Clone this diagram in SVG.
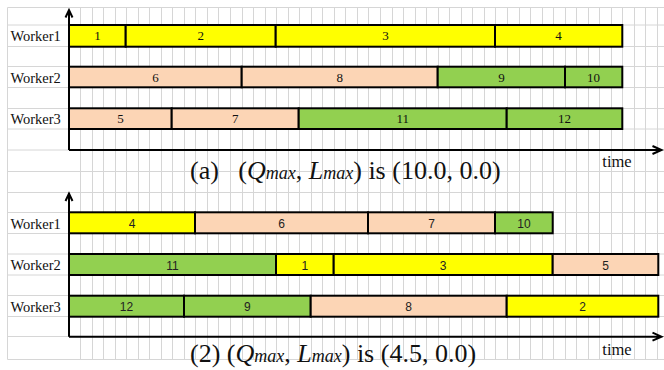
<svg xmlns="http://www.w3.org/2000/svg" width="664" height="370" viewBox="0 0 664 370">
<style>
.grid{stroke:#d6d6d6;stroke-width:1;fill:none}
.bar{stroke:#000;stroke-width:2}
.y{fill:#ffff00}.p{fill:#fcd5b5}.g{fill:#92d050}
.lab{font-family:"Liberation Serif","Times New Roman",serif;font-size:14.5px;fill:#111}
.ts{font-family:"Liberation Serif","Times New Roman",serif;font-size:13px;fill:#111;text-anchor:middle}
.tb{font-family:"Liberation Sans",Arial,sans-serif;font-size:12px;fill:#222;text-anchor:middle}
.cap{font-family:"Liberation Serif","Times New Roman",serif;font-size:26px;fill:#111}
.it{font-style:italic}
.sm{font-style:italic;font-size:18px}
.time{font-family:"Liberation Serif","Times New Roman",serif;font-size:16.5px;fill:#111}
.ax{stroke:#000;stroke-width:2;fill:none}
</style>
<rect width="664" height="370" fill="#fff"/>
<g id="grid">
<path class="grid" d="M7.5 7.5V359.5M80.5 7.5V359.5M92.5 7.5V359.5M103.5 7.5V359.5M115.5 7.5V359.5M126.5 7.5V359.5M138.5 7.5V359.5M149.5 7.5V359.5M161.5 7.5V359.5M172.5 7.5V359.5M184.5 7.5V359.5M195.5 7.5V359.5M207.5 7.5V359.5M218.5 7.5V359.5M230.5 7.5V359.5M242.5 7.5V359.5M253.5 7.5V359.5M265.5 7.5V359.5M276.5 7.5V359.5M288.5 7.5V359.5M299.5 7.5V359.5M311.5 7.5V359.5M322.5 7.5V359.5M334.5 7.5V359.5M345.5 7.5V359.5M357.5 7.5V359.5M368.5 7.5V359.5M380.5 7.5V359.5M392.5 7.5V359.5M403.5 7.5V359.5M415.5 7.5V359.5M426.5 7.5V359.5M438.5 7.5V359.5M449.5 7.5V359.5M461.5 7.5V359.5M472.5 7.5V359.5M484.5 7.5V359.5M495.5 7.5V359.5M507.5 7.5V359.5M519.5 7.5V359.5M530.5 7.5V359.5M542.5 7.5V359.5M553.5 7.5V359.5M565.5 7.5V359.5M576.5 7.5V359.5M588.5 7.5V359.5M599.5 7.5V359.5M611.5 7.5V359.5M622.5 7.5V359.5M634.5 7.5V359.5M645.5 7.5V359.5M657.5 7.5V359.5"/>
<path class="grid" d="M7.5 7.5H664M7.5 25H664M7.5 46.5H664M7.5 66.5H664M7.5 87.5H664M7.5 108.5H664M7.5 129H664M7.5 150H664M7.5 171.5H664M7.5 192.5H664M7.5 212.5H664M7.5 233.5H664M7.5 254H664M7.5 275H664M7.5 295.5H664M7.5 316.5H664M7.5 336.5H664M7.5 359.5H664"/>
</g>
<g id="labels-a">
<text class="lab" x="10.5" y="40.7">Worker1</text>
<text class="lab" x="10.5" y="82.5">Worker2</text>
<text class="lab" x="10.5" y="123.5">Worker3</text>
</g>
<g id="chart-a">
<g id="a-t1"><rect class="bar y" x="69" y="25" width="56.7" height="21.7"/><text class="ts" x="97.4" y="40.3">1</text></g>
<g id="a-t2"><rect class="bar y" x="125.7" y="25" width="150" height="21.7"/><text class="ts" x="200.7" y="40.3">2</text></g>
<g id="a-t3"><rect class="bar y" x="275.7" y="25" width="219.3" height="21.7"/><text class="ts" x="385.4" y="40.3">3</text></g>
<g id="a-t4"><rect class="bar y" x="495" y="25" width="127.3" height="21.7"/><text class="ts" x="558.6" y="40.3">4</text></g>
<g id="a-t6"><rect class="bar p" x="69" y="66.7" width="172.7" height="20.6"/><text class="ts" x="155.4" y="81.5">6</text></g>
<g id="a-t8"><rect class="bar p" x="241.7" y="66.7" width="196" height="20.6"/><text class="ts" x="339.7" y="81.5">8</text></g>
<g id="a-t9"><rect class="bar g" x="437.7" y="66.7" width="127.3" height="20.6"/><text class="ts" x="501.4" y="81.5">9</text></g>
<g id="a-t10"><rect class="bar g" x="565" y="66.7" width="57.3" height="20.6"/><text class="ts" x="593.6" y="81.5">10</text></g>
<g id="a-t5"><rect class="bar p" x="69" y="108.3" width="102.7" height="20.7"/><text class="ts" x="120.4" y="123.2">5</text></g>
<g id="a-t7"><rect class="bar p" x="171.7" y="108.3" width="127" height="20.7"/><text class="ts" x="235.2" y="123.2">7</text></g>
<g id="a-t11"><rect class="bar g" x="298.7" y="108.3" width="208" height="20.7"/><text class="ts" x="402.7" y="123.2">11</text></g>
<g id="a-t12"><rect class="bar g" x="506.7" y="108.3" width="115.6" height="20.7"/><text class="ts" x="564.5" y="123.2">12</text></g>
</g>
<g id="labels-b">
<text class="lab" x="10.5" y="229">Worker1</text>
<text class="lab" x="10.5" y="270">Worker2</text>
<text class="lab" x="10.5" y="312">Worker3</text>
</g>
<g id="chart-b">
<g id="b-t4"><rect class="bar y" x="69" y="212.3" width="126" height="21"/><text class="tb" x="132" y="227.8">4</text></g>
<g id="b-t6"><rect class="bar p" x="195" y="212.3" width="173" height="21"/><text class="tb" x="281.5" y="227.8">6</text></g>
<g id="b-t7"><rect class="bar p" x="368" y="212.3" width="127" height="21"/><text class="tb" x="431.5" y="227.8">7</text></g>
<g id="b-t10"><rect class="bar g" x="495" y="212.3" width="57.7" height="21"/><text class="tb" x="523.9" y="227.8">10</text></g>
<g id="b-t11"><rect class="bar g" x="69" y="254" width="207" height="21"/><text class="tb" x="172.5" y="269.5">11</text></g>
<g id="b-t1"><rect class="bar y" x="276" y="254" width="57.7" height="21"/><text class="tb" x="304.9" y="269.5">1</text></g>
<g id="b-t3"><rect class="bar y" x="333.7" y="254" width="219" height="21"/><text class="tb" x="443.2" y="269.5">3</text></g>
<g id="b-t5"><rect class="bar p" x="552.7" y="254" width="105.6" height="21"/><text class="tb" x="605.5" y="269.5">5</text></g>
<g id="b-t12"><rect class="bar g" x="69" y="295.7" width="115" height="21"/><text class="tb" x="126.5" y="311.2">12</text></g>
<g id="b-t9"><rect class="bar g" x="184" y="295.7" width="126.7" height="21"/><text class="tb" x="247.4" y="311.2">9</text></g>
<g id="b-t8"><rect class="bar p" x="310.7" y="295.7" width="196" height="21"/><text class="tb" x="408.7" y="311.2">8</text></g>
<g id="b-t2"><rect class="bar y" x="506.7" y="295.7" width="151.6" height="21"/><text class="tb" x="582.5" y="311.2">2</text></g>
</g>
<g id="connectors">
<path class="ax" d="M69 150V10M65.5 17.5L69 10L72.5 17.5"/>
<path class="ax" d="M69 150H661.5M652.5 146L661.5 150L652.5 154"/>
<path class="ax" d="M69 336.7V193.5M65.5 201L69 193.5L72.5 201"/>
<path class="ax" d="M69 336.7H661.5M652.5 332.7L661.5 336.7L652.5 340.7"/>
</g>
<g id="captions">
<text class="time" x="602.3" y="166.5">time</text>
<text class="time" x="602.3" y="355">time</text>
<text class="cap" x="190" y="178.5">(a)</text>
<text class="cap" x="238.3" y="178.5">(<tspan class="it">Q</tspan><tspan class="sm">max</tspan>, <tspan class="it">L</tspan><tspan class="sm">max</tspan>) is (10.0, 0.0)</text>
<text class="cap" x="190" y="361.7">(2) (<tspan class="it">Q</tspan><tspan class="sm">max</tspan>, <tspan class="it">L</tspan><tspan class="sm">max</tspan>) is (4.5, 0.0)</text>
</g>
</svg>
